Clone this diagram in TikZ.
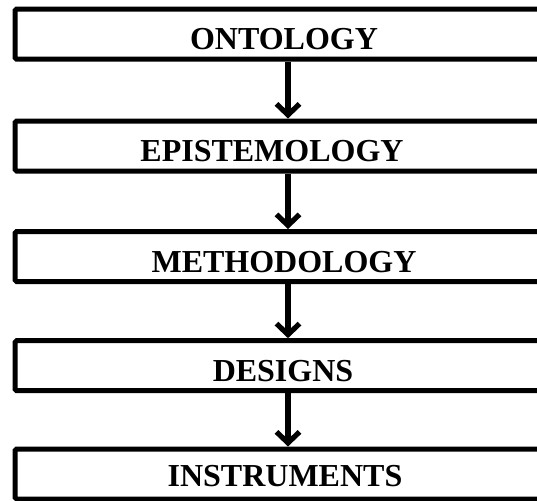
\documentclass[tikz,border=0pt]{standalone}
\usepackage{fontspec}
\setmainfont{Liberation Serif}
\usepackage{tikz}
\usetikzlibrary{arrows.meta,positioning,calc}

\tikzset{
	stage/.style={draw, line width=2.5pt, rounded corners=0.8pt, minimum width=270pt, minimum height=25pt, inner sep=0pt},
	stagetext/.style={font=\fontsize{16}{19}\selectfont\bfseries, inner sep=0pt},
	flow/.style={line width=2.8pt, -{Straight Barb[length=5.5pt,width=11.5pt,line width=2.6pt]}}
}

\begin{document}
\begin{tikzpicture}[x=0.5pt,y=-0.5pt]
	\useasboundingbox (0,0) rectangle (537,500);
	
	% boxes
	\node[stage] (ontology) at (285,34.1) {};
	\node[stage] (epistemology) at (285,146) {};
	\node[stage] (methodology) at (285,256.5) {};
	\node[stage] (designs) at (285,365.7) {};
	\node[stage] (instruments) at (285,474) {};
	
	% labels
	\node[stagetext] (ontologyT) at (284,39) {ONTOLOGY};
	\node[stagetext] (epistemologyT) at (272,151) {EPISTEMOLOGY};
	\node[stagetext] (methodologyT) at (284,262.5) {METHODOLOGY};
	\node[stagetext] (designsT) at (283,371) {DESIGNS};
	\node[stagetext] (instrumentsT) at (285,476) {INSTRUMENTS};
	
	% arrows
	\coordinate (spine) at (288,0);
	\draw[flow] (ontology.south -| spine) -- (epistemology.north -| spine);
	\draw[flow] (epistemology.south -| spine) -- (methodology.north -| spine);
	\draw[flow] (methodology.south -| spine) -- (designs.north -| spine);
	\draw[flow] (designs.south -| spine) -- (instruments.north -| spine);
\end{tikzpicture}
\end{document}
